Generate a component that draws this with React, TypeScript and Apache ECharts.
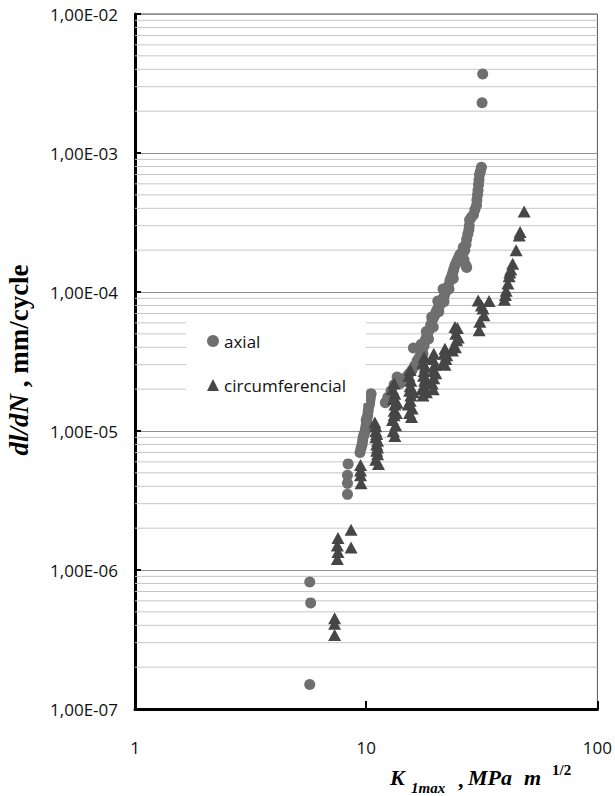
import React, { useEffect, useRef } from "react";
import * as echarts from "echarts";

// ---- Data (K1max in MPa·m^1/2, dl/dN in mm/cycle) ----
const axialK = [
  5.7, 5.75, 5.7,
  8.3, 8.3, 8.3, 8.35,
  9.4, 9.5, 9.6, 9.65, 9.7, 9.8, 9.9, 9.95, 10.0, 10.0, 10.05, 10.1, 10.15, 10.2, 10.25, 10.3,
  10.35, 10.4, 10.45, 10.5,
  12.1, 12.4, 12.8, 13.2, 13.6, 14.0, 14.3, 14.7, 15.1, 15.4, 15.8, 16.0,
  16.2, 16.6, 16.9, 17.2, 17.5, 17.8, 18.0, 18.2, 18.4, 18.7, 19.0, 19.3, 19.5, 19.8, 20.0,
  20.2, 20.5, 20.8, 21.0, 21.3, 21.6, 21.8, 22.0, 22.3, 22.6, 23.0, 23.2, 23.5, 23.7, 23.9,
  24.2, 24.6, 25.0, 25.4, 25.8, 26.2, 26.3, 26.5, 26.7, 27.0, 27.0, 27.2, 27.2, 27.5, 27.8,
  27.9, 28.0, 28.5, 29.1, 29.5, 30.0, 30.1, 30.3, 30.45, 30.6, 30.75, 30.9, 31.2, 31.5,
  31.7, 31.9,
  16.8, 17.6, 18.6, 19.5, 20.6, 21.7, 22.8, 23.8,
  17.3, 18.2, 19.2, 20.4, 21.5,
];
const axialRate = [
  1.5e-7, 5.8e-7, 8.2e-7,
  3.5e-6, 4.2e-6, 4.8e-6, 5.8e-6,
  7.0e-6, 7.5e-6, 8.0e-6, 8.5e-6, 9.0e-6, 9.5e-6, 1.0e-5, 1.05e-5, 1.1e-5, 1.2e-5, 1.15e-5,
  1.25e-5, 1.3e-5, 1.4e-5, 1.5e-5, 1.55e-5, 1.6e-5, 1.7e-5, 1.8e-5, 1.85e-5,
  1.6e-5, 1.75e-5, 1.95e-5, 2.15e-5, 2.45e-5, 2.2e-5, 2.3e-5, 2.4e-5, 2.5e-5, 2.6e-5, 2.75e-5,
  3.95e-5,
  2.95e-5, 3.2e-5, 3.35e-5, 3.5e-5, 3.8e-5, 4.1e-5, 4.5e-5, 4.7e-5, 4.9e-5, 5.3e-5, 5.8e-5,
  6.3e-5, 6.5e-5, 6.8e-5, 7.1e-5,
  7.4e-5, 7.7e-5, 8.0e-5, 8.4e-5, 8.8e-5, 9.1e-5, 9.5e-5, 1.0e-4, 1.03e-4, 1.1e-4, 1.2e-4,
  1.25e-4, 1.32e-4, 1.38e-4, 1.45e-4,
  1.55e-4, 1.65e-4, 1.75e-4, 1.85e-4, 1.9e-4, 1.9e-4, 2.1e-4, 1.7e-4, 2.0e-4, 1.55e-4, 2.2e-4,
  1.5e-4, 2.4e-4, 2.6e-4, 2.8e-4,
  3.0e-4, 3.3e-4, 3.45e-4, 3.6e-4, 3.9e-4, 4.2e-4, 4.6e-4, 5.0e-4, 5.4e-4, 5.9e-4, 6.4e-4,
  7.0e-4, 7.4e-4, 7.9e-4,
  2.3e-3, 3.7e-3,
  3.0e-5, 3.6e-5, 4.6e-5, 5.6e-5, 7.2e-5, 8.5e-5, 1.05e-4, 1.25e-4,
  4.2e-5, 5.2e-5, 6.6e-5, 8.6e-5, 1.05e-4,
];
const circK = [
  7.3, 7.3, 7.3, 7.55, 7.55, 7.5, 7.5, 8.6, 8.6,
  9.45, 9.45, 9.45, 9.5,
  10.9, 11.0, 11.0, 11.1, 11.0, 11.2, 11.1, 11.2, 11.1, 11.2, 11.0, 11.3,
  13.2, 13.0, 13.3, 13.1, 13.3, 13.2, 13.2, 13.0, 13.4, 13.1, 13.3, 13.6, 13.5,
  15.5, 15.3, 15.6, 15.5, 15.4, 15.6, 15.5, 15.2, 15.8, 15.4, 16.0, 15.7,
  17.8, 17.6, 18.0, 17.8, 17.7, 17.9, 17.8, 17.4, 18.2, 17.6, 18.1,
  19.6, 19.4, 19.8, 19.6, 19.6, 19.3, 20.0, 19.5,
  21.9, 21.7, 22.1, 21.9, 21.5, 22.3,
  24.2, 24.8, 24.4, 24.6, 24.0, 23.6, 25.0, 24.3,
  30.5, 34.0, 32.0, 32.3, 31.0, 30.8, 31.5,
  39.6, 40.0, 40.3, 41.0, 41.5, 41.8, 42.2, 43.0, 44.5, 45.9, 46.3, 48.2,
];
const circRate = [
  4.5e-7, 4.1e-7, 3.4e-7, 1.7e-6, 1.35e-6, 1.2e-6, 1.5e-6, 1.95e-6, 1.45e-6,
  5.7e-6, 5.2e-6, 4.8e-6, 4.2e-6,
  1.15e-5, 1.08e-5, 1.0e-5, 9.5e-6, 9.0e-6, 8.5e-6, 8.0e-6, 7.6e-6, 7.2e-6, 6.8e-6, 6.2e-6, 5.8e-6,
  2.2e-5, 2.0e-5, 1.85e-5, 1.7e-5, 1.55e-5, 1.4e-5, 1.3e-5, 1.2e-5, 1.1e-5, 1.0e-5, 9.2e-6,
  1.6e-5, 1.35e-5,
  2.75e-5, 2.5e-5, 2.3e-5, 2.1e-5, 1.95e-5, 1.8e-5, 1.65e-5, 1.55e-5, 1.45e-5, 1.35e-5, 1.9e-5,
  1.26e-5,
  3.4e-5, 3.1e-5, 2.9e-5, 2.7e-5, 2.5e-5, 2.3e-5, 2.1e-5, 2.0e-5, 1.9e-5, 1.8e-5, 2.4e-5,
  3.6e-5, 3.3e-5, 3.0e-5, 2.7e-5, 2.4e-5, 2.2e-5, 2.6e-5, 2.0e-5,
  3.9e-5, 3.6e-5, 3.3e-5, 3.0e-5, 3.1e-5, 3.5e-5,
  5.6e-5, 5.5e-5, 5.0e-5, 4.5e-5, 4.1e-5, 3.8e-5, 4.7e-5, 4.0e-5,
  8.7e-5, 8.6e-5, 7.6e-5, 6.8e-5, 6.1e-5, 5.3e-5, 8.0e-5,
  8.8e-5, 9.5e-5, 1.02e-4, 1.15e-4, 1.3e-4, 1.38e-4, 1.45e-4, 1.6e-4, 2.0e-4, 2.55e-4, 2.7e-4,
  3.8e-4,
];

const seriesNames = ["axial", "circumferencial"];
const xTickLabels = ["1", "10", "100"];
const yTickLabels = ["1,00E-07", "1,00E-06", "1,00E-05", "1,00E-04", "1,00E-03", "1,00E-02"];
const decadeStarts = [1e-7, 1e-6, 1e-5, 1e-4, 1e-3];
const minorMultipliers = [2, 3, 4, 5, 6, 7, 8, 9];
const xRange = [1, 100];

const FONT = "'Open Sans', 'Noto Sans', sans-serif";
const SERIF = "'Liberation Serif', 'DejaVu Serif', serif";

export default function App() {
  const ref = useRef<HTMLDivElement>(null);

  useEffect(() => {
    if (!ref.current) return;
    const chart = echarts.init(ref.current, null, { renderer: "svg" });

    const minorValues: number[] = [];
    decadeStarts.forEach((d) => minorMultipliers.forEach((m) => minorValues.push(m * d)));

    const minorGridSeries = minorValues.map((v) => ({
      name: "_minor",
      type: "line",
      silent: true,
      z: 1,
      symbol: "none",
      showSymbol: false,
      lineStyle: { color: "#c6c6c6", width: 1 },
      emphasis: { disabled: true },
      tooltip: { show: false },
      data: [
        [xRange[0], v],
        [xRange[1], v],
      ],
    }));

    const option: any = {
      animation: false,
      backgroundColor: "#fff",
      grid: {
        left: 135,
        right: 12,
        top: 14,
        bottom: 87,
        show: true,
        borderColor: "#555",
        borderWidth: 1,
        backgroundColor: "transparent",
      },
      xAxis: {
        type: "log",
        logBase: 10,
        min: xRange[0],
        max: xRange[1],
        axisLine: { show: true, lineStyle: { color: "#000", width: 3 } },
        axisTick: { show: true, inside: true, length: 8, lineStyle: { color: "#000", width: 2 } },
        axisLabel: {
          margin: 30,
          fontFamily: FONT,
          fontSize: 17,
          color: "#111",
          formatter: (v: number) => xTickLabels[Math.round(Math.log10(v))] ?? "",
        },
        splitLine: { show: false },
        minorTick: { show: false },
      },
      yAxis: {
        type: "log",
        logBase: 10,
        min: 1e-7,
        max: 1e-2,
        splitNumber: 5,
        axisLine: { show: true, lineStyle: { color: "#000", width: 3 } },
        axisTick: { show: true, inside: true, length: 6, lineStyle: { color: "#000", width: 2 } },
        axisLabel: {
          margin: 17,
          fontFamily: FONT,
          fontSize: 17,
          color: "#111",
          formatter: (v: number) => yTickLabels[Math.round(Math.log10(v)) + 7] ?? "",
        },
        splitLine: { show: true, lineStyle: { color: "#8f8f8f", width: 1 } },
      },
      legend: {
        show: true,
        orient: "vertical",
        left: 186,
        top: 320,
        z: 10,
        backgroundColor: "#fff",
        padding: [11, 20, 8, 21],
        itemGap: 24,
        itemWidth: 12,
        itemHeight: 12,
        selectedMode: false,
        textStyle: { fontFamily: FONT, fontSize: 17, color: "#111", lineHeight: 20 },
        data: [
          { name: seriesNames[0], icon: "circle" },
          { name: seriesNames[1], icon: "triangle" },
        ],
      },
      series: [
        ...minorGridSeries,
        {
          name: seriesNames[0],
          type: "scatter",
          symbol: "circle",
          symbolSize: 11,
          z: 3,
          itemStyle: { color: "#6f6f6f", opacity: 1 },
          data: axialK.map((k, i) => [k, axialRate[i]]),
        },
        {
          name: seriesNames[1],
          type: "scatter",
          symbol: "triangle",
          symbolSize: [13, 12],
          z: 4,
          itemStyle: { color: "#464646", opacity: 1 },
          data: circK.map((k, i) => [k, circRate[i]]),
        },
      ],
      graphic: [
        {
          type: "text",
          x: 19,
          y: 360,
          rotation: Math.PI / 2,
          style: {
            text: "{i|dl/dN}{b| , mm/cycle}",
            align: "center",
            verticalAlign: "middle",
            rich: {
              i: { fontFamily: SERIF, fontSize: 27, fontWeight: "bold", fontStyle: "italic", fill: "#000" },
              b: { fontFamily: SERIF, fontSize: 27, fontWeight: "bold", fill: "#000" },
            },
          },
        },
        {
          type: "text",
          x: 390,
          y: 788,
          style: {
            text: "K",
            fontFamily: SERIF,
            fontSize: 22,
            fontWeight: "bold",
            fontStyle: "italic",
            fill: "#000",
            verticalAlign: "bottom",
          },
        },
        {
          type: "text",
          x: 411,
          y: 795,
          style: {
            text: "1max",
            fontFamily: SERIF,
            fontSize: 15,
            fontWeight: "bold",
            fontStyle: "italic",
            fill: "#000",
            verticalAlign: "bottom",
          },
        },
        {
          type: "text",
          x: 458,
          y: 790,
          style: {
            text: ",",
            fontFamily: SERIF,
            fontSize: 22,
            fontWeight: "bold",
            fill: "#000",
            verticalAlign: "bottom",
          },
        },
        {
          type: "text",
          x: 468,
          y: 788,
          style: {
            text: "MPa",
            fontFamily: SERIF,
            fontSize: 22,
            fontWeight: "bold",
            fontStyle: "italic",
            fill: "#000",
            verticalAlign: "bottom",
          },
        },
        {
          type: "text",
          x: 524,
          y: 788,
          style: {
            text: "m",
            fontFamily: SERIF,
            fontSize: 22,
            fontWeight: "bold",
            fontStyle: "italic",
            fill: "#000",
            verticalAlign: "bottom",
          },
        },
        {
          type: "text",
          x: 552,
          y: 777,
          style: {
            text: "1/2",
            fontFamily: SERIF,
            fontSize: 15,
            fontWeight: "bold",
            fill: "#000",
            verticalAlign: "bottom",
          },
        },
      ],
    };

    chart.setOption(option);
    return () => chart.dispose();
  }, []);

  return (
    <div
      ref={ref}
      style={{ position: "fixed", left: 0, top: 0, width: 615, height: 796, background: "#fff" }}
    />
  );
}
